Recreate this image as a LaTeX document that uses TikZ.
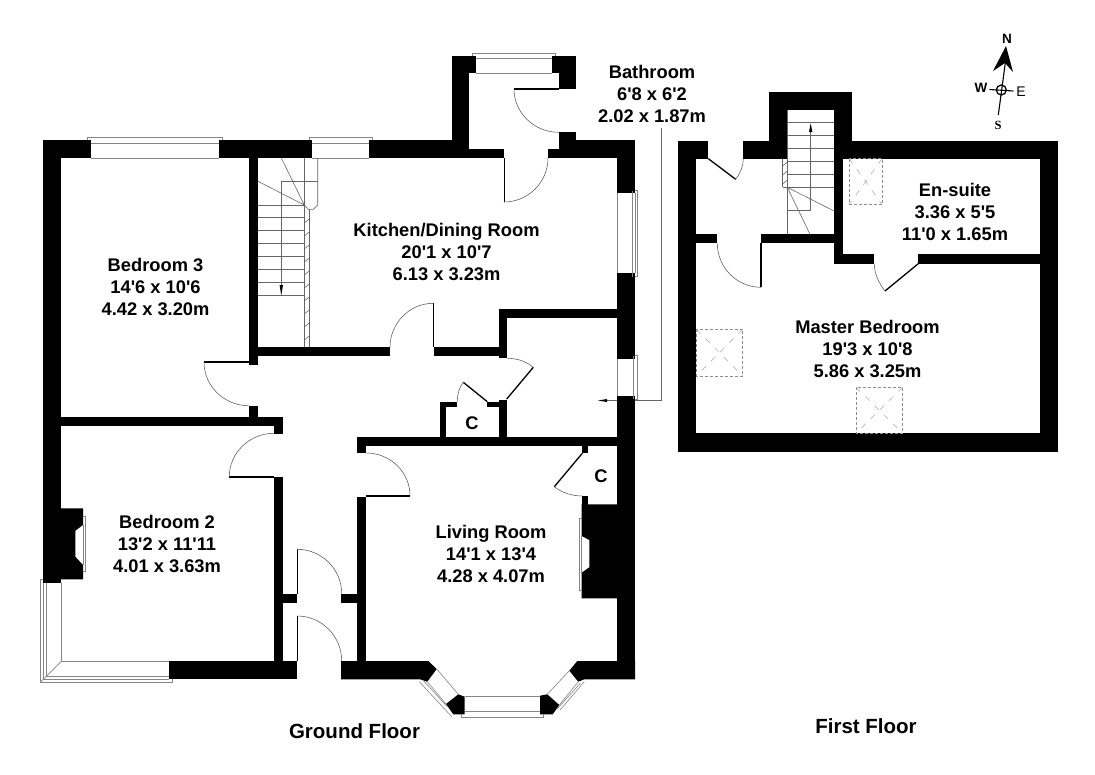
\documentclass[tikz,border=0pt]{standalone}
\usepackage{fontspec}
\setmainfont{Liberation Sans}
\newfontfamily\plainsans{Liberation Sans}
\newfontfamily\plainserif{Liberation Serif}
\usetikzlibrary{calc}
\tikzset{
  x=1pt,y=-1pt,
  wall/.style={fill=black,draw=none},
  glass/.style={draw=black!48,line width=0.6pt},
  thin line/.style={draw=black!60,line width=0.6pt},
  swingarc/.style={draw=black!65,line width=0.55pt},
  leaf/.style={draw=black,line width=1.3pt},
  sky/.style={draw=black!45,line width=0.6pt,dash pattern=on 3pt off 2pt},
  skyx/.style={draw=black!35,line width=0.5pt,dash pattern=on 6pt off 7pt},
  roomlabel/.style={align=center,font=\plainsans\fontsize{18.3}{22}\selectfont\bfseries,inner sep=0pt},
  floorlabel/.style={font=\plainsans\fontsize{20.5}{24}\selectfont\bfseries,inner sep=0pt},
  compass/.style={font=\plainsans\fontsize{13.5}{15}\selectfont\bfseries,inner sep=0pt},
}
\newcommand{\W}[4]{\fill[wall] (#1,#2) rectangle (#3,#4);}
\newcommand{\swing}[3]{\draw[swingarc] (#1) .. controls ($(#1)+0.55*(#2)-0.55*(#3)$) and ($(#2)+0.55*(#1)-0.55*(#3)$) .. (#2);}
\begin{document}
\begin{tikzpicture}
\useasboundingbox (0,0) rectangle (1095,774);
\fill[white] (0,0) rectangle (1095,774);

% ---------- Ground floor walls
\W{43.3}{140}{90.7}{158}
\W{219.3}{140}{312.3}{158}
\W{43.3}{140}{61.3}{582.7}
\W{248.7}{158}{258}{365}
\W{248.7}{347.3}{390}{356.3}
\W{248.7}{405.7}{258}{417.3}
\W{43.3}{417.3}{282.7}{426.3}
\W{274}{417.3}{282.7}{434}
\W{274}{477}{283}{661.5}
\W{169.3}{661.3}{297.3}{679.3}
\W{283}{593.7}{297.3}{602.7}
% chimney bedroom 2
\fill[wall] (61,508.3) -- (83,508.3) -- (83,525) -- (75.3,530.7) -- (75.3,556.7) -- (83,565) -- (83,579.3) -- (61,579.3) -- cycle;
% upper walls
\W{369.3}{140}{469.3}{158}
\W{469}{149}{504}{158}
\W{451.7}{55.7}{469.3}{158}
\W{451.7}{55.7}{475.7}{73.3}
\W{552.3}{55.7}{576.3}{73.3}
\W{558.7}{73}{576.3}{88.7}
\W{558.7}{132.3}{576.3}{158}
\W{558.7}{140}{635}{158}
\W{548.3}{149}{635}{158}
\W{617.3}{140}{635}{193.3}
\W{617.3}{273.3}{635}{359}
\W{617.3}{395.7}{635}{679.3}
\W{434}{347.3}{507.3}{356.3}
\W{498.7}{309.3}{507.3}{358.3}
\W{498.7}{309.3}{617.3}{318.3}
\W{498.7}{400}{507.3}{445}
\W{357.3}{436.7}{617.3}{445.7}
\W{440}{401.7}{445.7}{437}
\W{440}{401.7}{457.3}{407.3}
\W{487.3}{401.7}{507}{407.3}
\W{357.3}{445}{366.3}{453.3}
\W{357.3}{496.7}{366.3}{661.5}
\W{341}{594}{366}{602.7}
\W{582.3}{445}{588.3}{453.3}
\W{582.3}{496}{588.3}{505}
% chimney living room
\fill[wall] (581.7,504.3) -- (617.5,504.3) -- (617.5,598.3) -- (581.7,598.3) -- (581.7,572.7) -- (589.3,567.3) -- (589.3,540) -- (581.7,536) -- cycle;
% bay walls
\fill[wall] (341,661) -- (428.3,661) -- (436.7,669) -- (427.3,681.7) -- (420,679.3) -- (341,679.3) -- cycle;
\fill[wall] (446,704) -- (458.3,694.3) -- (464.7,696.7) -- (464.7,714.3) -- (453.3,714.3) -- cycle;
\fill[wall] (540,695.7) -- (547.3,694.3) -- (559.3,705) -- (552.7,714.3) -- (540,714.3) -- cycle;
\fill[wall] (569.3,670.7) -- (577.3,661) -- (635,661) -- (635,679.3) -- (584.3,679.3) -- (578.3,681.7) -- cycle;

% ---------- Ground floor windows
\draw[glass] (87.3,140) -- (87.3,137.3) -- (222.7,137.3) -- (222.7,140);
\draw[glass] (90.7,143.3) -- (219.3,143.3) (90.7,158) -- (219.3,158);
\draw[glass] (309,140) -- (309,137.3) -- (372.7,137.3) -- (372.7,140);
\draw[glass] (312.3,143.3) -- (369.3,143.3) (312.3,158) -- (369.3,158);
\draw[glass] (472.3,55.7) -- (472.3,53.3) -- (555.7,53.3) -- (555.7,55.7);
\draw[glass] (475.7,58.3) -- (552.3,58.3) (475.7,73.3) -- (552.3,73.3);
\draw[glass] (617.3,193.3) -- (617.3,273.3) (632.5,190.7) -- (632.5,276.7) (635,193.3) -- (635,273.3);
\draw[glass] (635,190.7) -- (637.7,190.7) -- (637.7,276.7) -- (635,276.7);
\draw[glass] (617.3,359) -- (617.3,395.7) (633,355.7) -- (633,399.3);
\draw[glass] (635,355.7) -- (637.7,355.7) -- (637.7,399.3) -- (635,399.3);
% bedroom 2 bay
\draw[glass] (61.3,582.7) -- (61.3,661.3) -- (169.3,661.3);
\draw[glass] (43.3,579.3) -- (40.3,579.3) -- (40.3,682.3) -- (172.7,682.3) -- (172.7,679.3);
\draw[glass] (46.7,582.7) -- (46.7,676) -- (169.3,676);
\draw[glass] (43.3,582.7) -- (43.3,679.3) -- (169.3,679.3);
\draw[glass] (61.3,661.3) -- (40.3,682.3);
% hearth
\draw[glass] (83,516.7) -- (85.7,516.7) -- (85.7,571.7) -- (83,571.7);
\draw[glass] (83,525) -- (83,565);
\draw[glass] (581.7,518.3) -- (579,518.3) -- (579,590.7) -- (581.7,590.7);
\draw[glass] (581.7,536) -- (581.7,572.7);
% living room bay windows
\draw[glass] (464.7,696) -- (540,696) (464.7,711.7) -- (540,711.7);
\draw[glass] (461.7,714.3) -- (461.7,717.3) -- (543.3,717.3) -- (543.3,714.3);
\draw[glass] (436.7,669) -- (458.3,694.3) (427.3,681.7) -- (446,704);
\draw[glass] (419.3,681.7) -- (451.7,716.7) (423.3,680.5) -- (447.3,706.7);
\draw[glass] (569.3,670.7) -- (547.3,694.3) (578.3,681.7) -- (559.3,705);
\draw[glass] (584.3,681.7) -- (560,710) (580.5,683) -- (557,709);

% ---------- Ground floor doors
\draw[leaf] (204,362) -- (248.7,362);
\swing{204,362}{248.7,405.7}{248.7,362}
\draw[leaf] (229.3,477) -- (274,477);
\swing{274,433.3}{229.3,476.7}{274,476.7}
\draw[leaf,line width=0.9pt] (297.3,549.3) -- (297.3,593.7);
\swing{297.3,549.3}{341.7,593.7}{297.3,593.7}
\draw[leaf,line width=0.9pt] (297.3,616) -- (297.3,661.3);
\swing{297.3,616}{341.7,661}{297.3,661}
\draw[leaf] (366.3,496) -- (410,496);
\swing{366.3,453}{410,495.7}{366.3,495.7}
\draw[leaf] (504.5,158) -- (504.5,202);
\swing{504,202}{548,158}{504,158}
\draw[leaf] (514,89) -- (558.7,89);
\swing{514,89}{558.7,132.3}{558.7,89}
\draw[leaf] (433.5,303.3) -- (433.5,347.3);
\swing{433.3,303.3}{390,347.3}{433.3,347.3}
\draw[leaf] (506.7,399) -- (533.3,367.3);
\draw[swingarc] (507.3,358.3) .. controls (517,358.3) and (525.9,361.2) .. (533.3,367.3);
\draw[leaf] (487.3,401.7) -- (463.3,382.3);
\draw[swingarc] (457.3,401.7) .. controls (457.3,394.7) and (458.9,387.7) .. (463.3,382.3);
\draw[leaf] (582.3,453.3) -- (554.3,486.7);
\draw[swingarc] (554.3,486.7) .. controls (561.6,492.8) and (572.8,496) .. (582.3,496);

% ---------- Ground floor stairs
\foreach \y in {205,217.7,230.3,243.3,256.3,269.3,282.3,295.7}
  \draw[thin line] (258,\y) -- (304.3,\y);
\draw[thin line] (281.3,181.7) -- (281.3,288);
\draw[thin line] (281.3,181.7) -- (317.7,181.7);
\draw[thin line] (304.3,158) -- (304.3,347.3);
\draw[thin line,miter limit=4] (317.7,158) -- (317.7,205) -- (313.3,209.3) -- (308.3,209.3) -- (304.3,205);
\draw[thin line] (309.3,209.3) -- (309.3,347.3);
\draw[thin line] (304.3,205) -- (281.3,158) (304.3,205) -- (258,181.3);
\foreach \y in {219,232,245,258,271,284,297,310,323,336}
  \draw[thin line] (304.3,\y+4) -- (309.3,\y);
\fill[black] (281.3,295.7) -- (279.6,285) -- (283,285) -- cycle;

% ---------- Leader
\coordinate (bathtop) at (661,128);
\coordinate (bathbend) at (661,400.5);
\coordinate (bathwall) at (635,400.5);
\coordinate (bathtip) at (598,400.5);
\draw[thin line] (bathtop) -- (bathbend) -- (bathwall);
\draw[thin line] (617.3,400.5) -- (604,400.5);
\fill[black] (bathtip) -- (607,399) -- (607,402) -- cycle;

% ---------- First floor walls
\W{678.3}{140.7}{708.3}{158.7}
\W{743.3}{140.7}{787.3}{158.7}
\W{678.3}{140.7}{696.3}{451.7}
\W{769.3}{92.3}{851.7}{110}
\W{769.3}{92.3}{787.3}{158.7}
\W{834}{92.3}{851.7}{158.7}
\W{834}{140.7}{1057.7}{158.7}
\W{1039.7}{140.7}{1057.7}{451.7}
\W{678.3}{433.3}{1057.7}{451.7}
\W{834}{158.7}{842.7}{263.7}
\W{834}{254.3}{874.3}{263.7}
\W{918.3}{254.3}{1039.7}{263.7}
\W{696.3}{234.3}{717.3}{243.3}
\W{761}{234.3}{834}{243.3}

% ---------- First floor doors
\draw[leaf] (708.3,158.7) -- (735.7,179.3);
\draw[swingarc] (735.7,179.3) .. controls (740.3,173.1) and (743.3,166.4) .. (743.3,158.7);
\draw[leaf] (761,243.3) -- (761,287.3);
\swing{761,287.3}{717.3,243.3}{761,243.3}
\draw[leaf] (918.3,263.7) -- (885,291);
\draw[swingarc] (885,291) .. controls (878.9,283.6) and (874.3,273.3) .. (874.3,263.7);

% ---------- First floor stairs
\foreach \y in {122.7,135.7,148.7,161.3,174.3}
  \draw[thin line] (787.3,\y) -- (834,\y);
\draw[thin line] (782.7,187.3) -- (834,187.3);
\draw[thin line] (787.3,210) -- (810.7,210) -- (810.7,130);
\draw[thin line] (787.3,110) -- (787.3,234.3);
\draw[thin line] (782.7,158.7) -- (782.7,187.3);
\draw[thin line] (787.3,187.3) -- (834,211) (787.3,187.3) -- (810,234.3);
\foreach \y in {166,175,184}
  \draw[thin line] (782.7,\y) -- (787.3,\y-4);
\fill[black] (810.7,123.3) -- (809,132) -- (812.4,132) -- cycle;

% ---------- Roof lights
\draw[sky] (849.3,158.7) rectangle (882,204.3);
\draw[skyx] (849.3,158.7) -- (882,204.3) (882,158.7) -- (849.3,204.3);
\draw[sky] (696.3,329.3) rectangle (742.7,376);
\draw[skyx] (696.3,329.3) -- (742.7,376) (742.7,329.3) -- (696.3,376);
\draw[sky] (856,387.3) rectangle (902.7,433.3);
\draw[skyx] (856,387.3) -- (902.7,433.3) (902.7,387.3) -- (856,433.3);

% ---------- Compass
\draw[black,line width=1.1pt] (998.3,115) -- (1005.7,60);
\fill[black] (1006,46) -- (993,71) -- (1005,63) -- (1013,72) -- cycle;
\draw[black,line width=1.3pt] (1001.3,90) circle [radius=5];
\draw[black,line width=1.1pt] (989.3,89.5) -- (1013.3,91);
\node[compass] (compN) at (1007,39) {N};
\node[compass] (compW) at (981,88) {W};
\node[compass,font=\plainsans\fontsize{14}{15}\selectfont] (compE) at (1021,91.5) {E};
\node[compass,font=\plainserif\fontsize{12.5}{15}\selectfont\bfseries] (compS) at (998,125) {S};

% ---------- Labels
\node[roomlabel] (bed3) at (155.5,287) {Bedroom 3\\14'6 x 10'6\\4.42 x 3.20m};
\node[roomlabel] (bed2) at (167,544) {Bedroom 2\\13'2 x 11'11\\4.01 x 3.63m};
\node[roomlabel] (kitchen) at (446.5,252) {Kitchen/Dining Room\\20'1 x 10'7\\6.13 x 3.23m};
\node[roomlabel] (living) at (491,554) {Living Room\\14'1 x 13'4\\4.28 x 4.07m};
\node[roomlabel] (bath) at (652,94) {Bathroom\\6'8 x 6'2\\2.02 x 1.87m};
\node[roomlabel] (master) at (867.5,349) {Master Bedroom\\19'3 x 10'8\\5.86 x 3.25m};
\node[roomlabel] (ensuite) at (955,212) {En-suite\\3.36 x 5'5\\11'0 x 1.65m};
\node[roomlabel] (c1) at (472,423) {C};
\node[roomlabel] (c2) at (601,476) {C};
\node[floorlabel] (gf) at (354.5,731) {Ground Floor};
\node[floorlabel] (ff) at (866,726) {First Floor};
\end{tikzpicture}
\end{document}
